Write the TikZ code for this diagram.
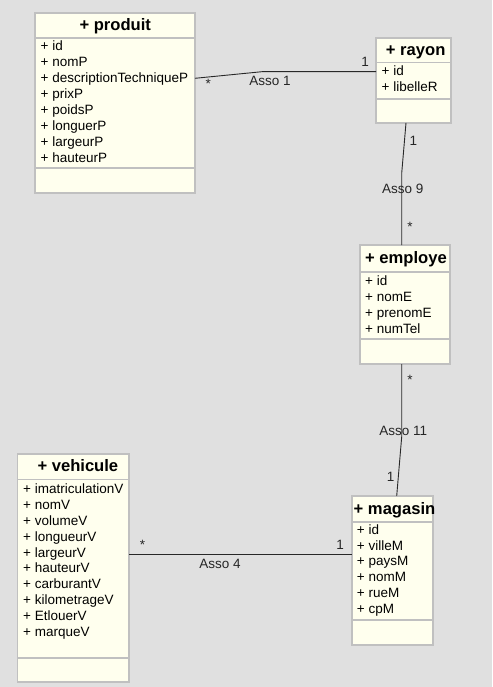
\documentclass[tikz,border=0pt]{standalone}
\usepackage{fontspec}
\setmainfont{Liberation Sans}
\definecolor{bg}{RGB}{224,224,224}
\definecolor{boxfill}{RGB}{255,255,238}
\definecolor{boxline}{RGB}{192,192,192}
\definecolor{conn}{RGB}{40,40,40}
\tikzset{
  classbox/.style={draw=boxline, fill=boxfill, line width=1.6pt, anchor=north west, inner sep=0pt, outer sep=0pt},
  ctitle/.style={font=\fontsize{16.6}{19}\selectfont\bfseries, inner sep=0pt, anchor=base west},
  attr/.style={font=\fontsize{13.5}{15}\selectfont, inner sep=0pt, anchor=base west},
  sepline/.style={draw=boxline, line width=1.6pt},
  assoc/.style={draw=conn, line width=0.9pt},
  lbl/.style={font=\fontsize{13.5}{15}\selectfont, inner sep=0pt, text=black!85},
}
\begin{document}
\begin{tikzpicture}[x=1pt,y=-1pt]
\useasboundingbox[fill=bg] (0,0) rectangle (492,687);

% ---------- produit ----------
\node[classbox, minimum width=160pt, minimum height=180pt] (produit) at (35,13) {};
\draw[sepline] (produit.west |- 0,38.3) -- (produit.east |- 0,38.3);
\draw[sepline] (produit.west |- 0,168) -- (produit.east |- 0,168);
\node[ctitle] (produit-t) at (79.3,30.5) {+ produit};
\foreach \t [count=\i from 0] in {id,nomP,descriptionTechniqueP,prixP,poidsP,longuerP,largeurP,hauteurP}
  \node[attr] (produit-a\i) at (40.5,{51+\i*15.9}) {+ \t};

% ---------- rayon ----------
\node[classbox, minimum width=75pt, minimum height=84.5pt] (rayon) at (376,38.3) {};
\draw[sepline] (rayon.west |- 0,62.7) -- (rayon.east |- 0,62.7);
\draw[sepline] (rayon.west |- 0,99.3) -- (rayon.east |- 0,99.3);
\node[ctitle] (rayon-t) at (385.7,55.4) {+ rayon};
\foreach \t [count=\i from 0] in {id,libelleR}
  \node[attr] (rayon-a\i) at (381.5,{76+\i*15.6}) {+ \t};

% ---------- employe ----------
\node[classbox, minimum width=90pt, minimum height=119pt] (employe) at (360,245) {};
\draw[sepline] (employe.west |- 0,271.7) -- (employe.east |- 0,271.7);
\draw[sepline] (employe.west |- 0,339) -- (employe.east |- 0,339);
\node[ctitle] (employe-t) at (365,263.8) {+ employe};
\foreach \t [count=\i from 0] in {id,nomE,prenomE,numTel}
  \node[attr] (employe-a\i) at (365,{285+\i*16.2}) {+ \t};

% ---------- vehicule ----------
\node[classbox, minimum width=111.7pt, minimum height=228pt] (vehicule) at (17.3,454) {};
\draw[sepline] (vehicule.west |- 0,479.3) -- (vehicule.east |- 0,479.3);
\draw[sepline] (vehicule.west |- 0,657.7) -- (vehicule.east |- 0,657.7);
\node[ctitle] (vehicule-t) at (37.3,471.8) {+ vehicule};
\foreach \t [count=\i from 0] in {imatriculationV,nomV,volumeV,longueurV,largeurV,hauteurV,carburantV,kilometrageV,EtlouerV,marqueV}
  \node[attr] (vehicule-a\i) at (23,{493.8+\i*15.8}) {+ \t};

% ---------- magasin ----------
\node[classbox, minimum width=81pt, minimum height=149pt] (magasin) at (351.7,496) {};
\draw[sepline] (magasin.west |- 0,521.7) -- (magasin.east |- 0,521.7);
\draw[sepline] (magasin.west |- 0,620) -- (magasin.east |- 0,620);
\node[ctitle] (magasin-t) at (353.5,514) {+ magasin};
\foreach \t [count=\i from 0] in {id,villeM,paysM,nomM,rueM,cpM}
  \node[attr] (magasin-a\i) at (356.7,{534.3+\i*15.8}) {+ \t};

% ---------- Asso 1 ----------
\coordinate (k1) at (262,71.7);
\draw[assoc] (produit.east |- 0,78.3) -- (k1) -- (rayon.west |- k1);
\node[lbl] (m1a) at (208.3,84) {*};
\node[lbl] (m1b) at (365,62.3) {1};
\node[lbl] (asso1) at (270,81) {Asso 1};

% ---------- Asso 9 ----------
\coordinate (k9) at (401.7,173.3);
\draw[assoc] (rayon.south -| 406,0) -- (k9) -- (employe.north -| k9);
\node[lbl] (m9a) at (413.3,140.7) {1};
\node[lbl] (asso9) at (402.7,189.3) {Asso 9};
\node[lbl] (m9b) at (410,227) {*};

% ---------- Asso 11 ----------
\coordinate (k11) at (401.7,436.7);
\draw[assoc] (employe.south -| k11) -- (k11) -- (magasin.north -| 396.7,0);
\node[lbl] (m11a) at (410,380) {*};
\node[lbl] (asso11) at (403.3,430.7) {Asso 11};
\node[lbl] (m11b) at (390.7,477.3) {1};

% ---------- Asso 4 ----------
\draw[assoc] (vehicule.east |- 0,554.5) -- (magasin.west |- 0,554.5);
\node[lbl] (m4a) at (142.5,545) {*};
\node[lbl] (m4b) at (340,545) {1};
\node[lbl] (asso4) at (220,564) {Asso 4};
\end{tikzpicture}
\end{document}
